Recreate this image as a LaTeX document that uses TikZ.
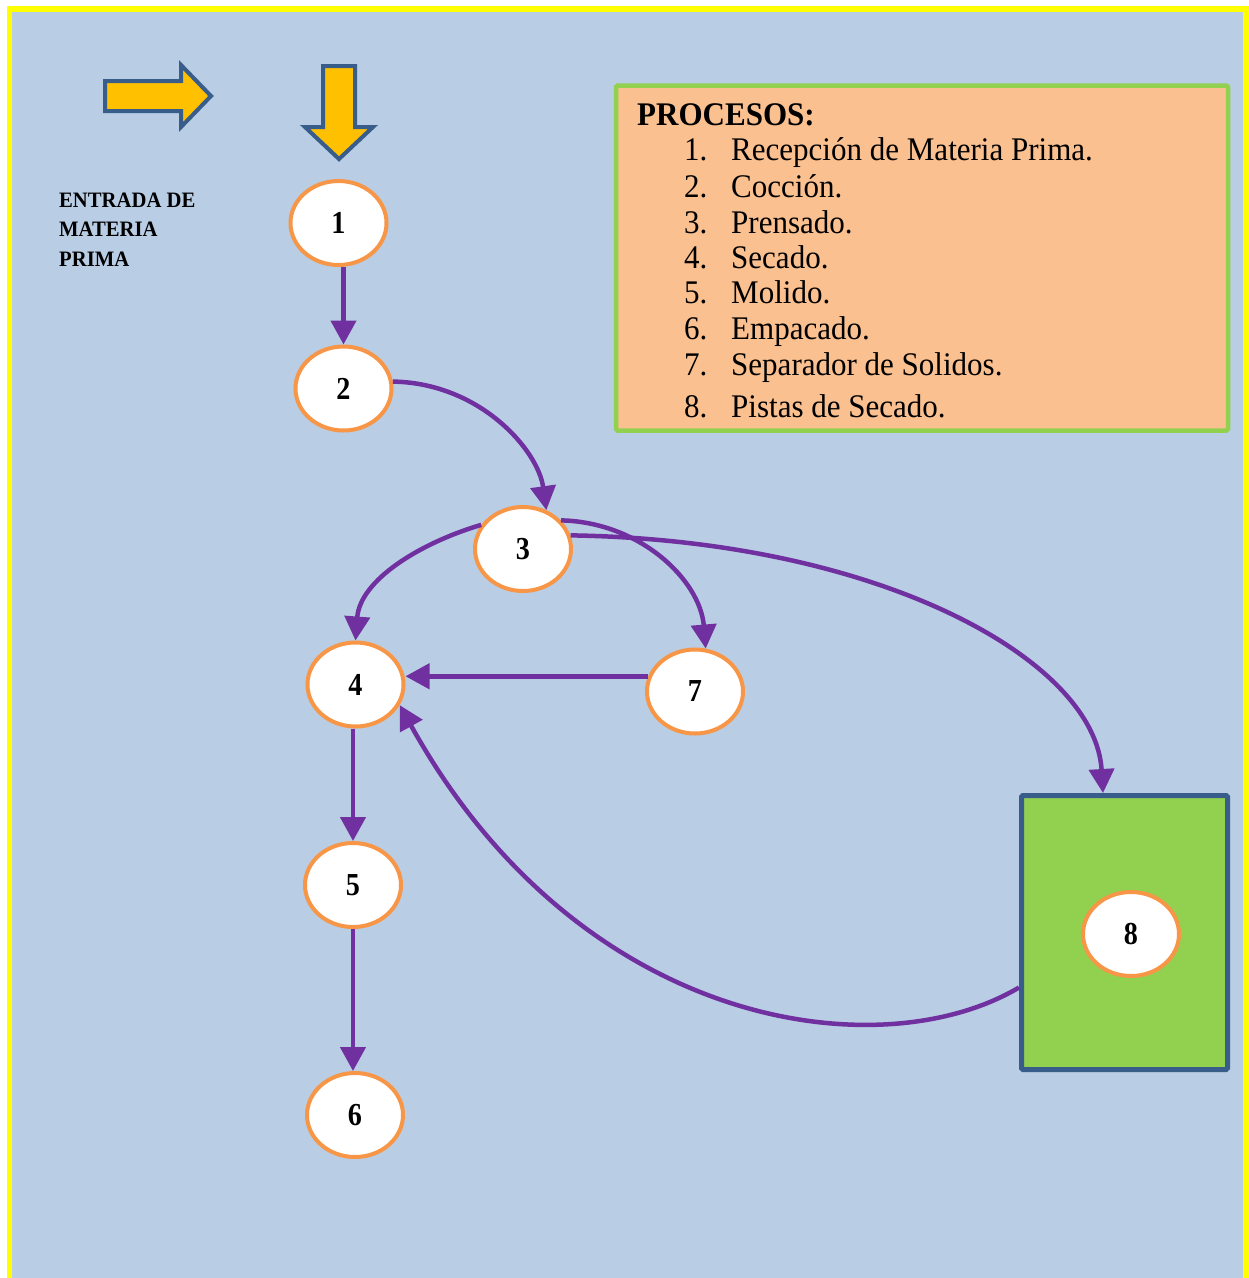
\documentclass[tikz,border=0pt]{standalone}
\usepackage{fontspec}
\setmainfont{Liberation Serif}[FakeStretch=0.94]
\newfontfamily\numfont{Liberation Serif}[FakeStretch=0.88]
\usetikzlibrary{arrows.meta,calc,shapes.geometric}
\definecolor{bgblue}{HTML}{B9CDE5}
\definecolor{frameyellow}{HTML}{FFFF00}
\definecolor{blockfill}{HTML}{FFC000}
\definecolor{blockline}{HTML}{385D8A}
\definecolor{procorange}{HTML}{F79646}
\definecolor{flowpurple}{HTML}{7030A0}
\definecolor{leafgreen}{HTML}{92D050}
\definecolor{peach}{HTML}{FAC090}
\begin{document}
\begin{tikzpicture}[x=1pt,y=-1pt,
  proc/.style={ellipse, draw=procorange, line width=4pt, fill=white,
    minimum width=96pt, minimum height=84pt, inner sep=0pt,
    font=\numfont\bfseries\fontsize{32}{32}\selectfont},
  flow/.style={draw=flowpurple, line width=4.5pt,
    -{Triangle[length=24pt,width=25pt]}},
  blockarrow/.style={draw=blockline, fill=blockfill, line width=4pt, line join=miter},
  legtext/.style={anchor=base west, inner sep=0pt, font=\fontsize{33}{33}\selectfont},
  entrytext/.style={anchor=base west, inner sep=0pt, font=\bfseries\fontsize{22}{22}\selectfont}]

\useasboundingbox (0,0) rectangle (1249,1278);
\clip (0,0) rectangle (1249,1278);

% page frame
\draw[frameyellow, line width=5.5pt, fill=bgblue] (9.5,9) rectangle (1246,1300);

% block arrows
\draw[blockarrow] (105,81) -- (181,81) -- (181,65) -- (211,96) -- (181,127)
  -- (181,111) -- (105,111) -- cycle;
\draw[blockarrow] (323,66) -- (355,66) -- (355,127) -- (373,127) -- (339,159)
  -- (305,127) -- (323,127) -- cycle;

% entry label
\node[entrytext] (ent1) at (59,207) {ENTRADA DE};
\node[entrytext] (ent2) at (59,236) {MATERIA};
\node[entrytext] (ent3) at (59,266) {PRIMA};

% legend
\node[draw=leafgreen, fill=peach, line width=4.5pt, rounded corners=1.5pt,
  minimum width=612pt, minimum height=345pt, inner sep=0pt] (legend) at (922,258) {};
\node[legtext, font=\bfseries\fontsize{33}{33}\selectfont] (legtitle) at (637,125) {PROCESOS:};
\foreach \n/\t/\y in {1/Recepción de Materia Prima./160, 2/Cocción./197,
    3/Prensado./233, 4/Secado./268, 5/Molido./303, 6/Empacado./339,
    7/Separador de Solidos./375, 8/Pistas de Secado./417}{
  \node[legtext] (num\n) at (684,\y) {\n.};
  \node[legtext] (item\n) at (731,\y) {\t};
}

% drying yard
\node[draw=blockline, fill=leafgreen, line width=5pt, rounded corners=1.5pt,
  minimum width=206pt, minimum height=274pt, inner sep=0pt] (yard) at (1124.5,932.5) {};

% process nodes
\node[proc] (n1) at (338.5,223) {1};
\node[proc] (n2) at (343.5,388.5) {2};
\node[proc] (n3) at (523,549) {3};
\node[proc] (n4) at (355.5,684.5) {4};
\node[proc] (n7) at (695,691.5) {7};
\node[proc] (n5) at (353,885) {5};
\node[proc] (n6) at (355,1115) {6};
\node[proc] (n8) at (1131,934) {8};

% flows
\draw[flow] (n1.south -| n2.north) -- (n2.north);
\draw[flow] (n2.8) .. controls (480,383) and (538,450) .. (n3.59);
\draw[flow] (n3.150) .. controls (420,543) and (360,580) .. (n4.north);
\draw[flow] (n3.37) .. controls (640,522) and (700,580) .. (n7.76);
\draw[flow] (n3.16) .. controls (880,540) and (1095,660) .. ($(yard.north)+(-21.5,0)$);
\draw[flow] (n7.162) -- (n7.162 -| n4.east);
\draw[flow] ($(yard.west)+(0,55)$) .. controls (880,1070) and (580,1030) .. (n4.335);
\draw[flow] (n4.south -| n5.north) -- (n5.north);
\draw[flow] (n5.south) -- (n5.south |- n6.north);

\end{tikzpicture}
\end{document}
